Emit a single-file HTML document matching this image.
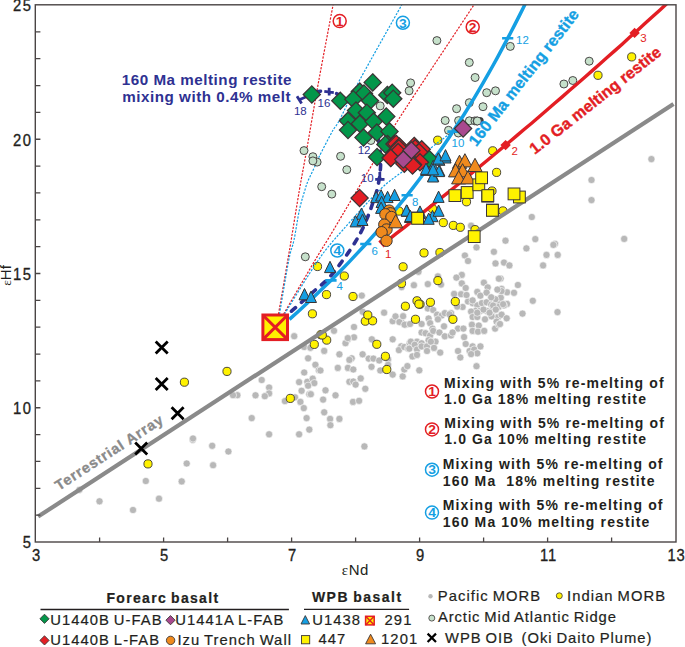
<!DOCTYPE html><html><head><meta charset="utf-8"><style>html,body{margin:0;padding:0;background:#fff;overflow:hidden;}svg{display:block;}text{font-family:"Liberation Sans", sans-serif;}</style></head><body>
<svg width="685" height="647" viewBox="0 0 685 647">
<defs><clipPath id="pc"><rect x="35.6" y="4.8" width="640.4" height="537.2"/></clipPath></defs>
<g fill="#b8b8b8">
<circle cx="99.5" cy="501.3" r="3.6" stroke="#fff" stroke-width="0.6"/>
<circle cx="133.0" cy="510.0" r="3.6" stroke="#fff" stroke-width="0.6"/>
<circle cx="145.8" cy="481.0" r="3.6" stroke="#fff" stroke-width="0.6"/>
<circle cx="159.0" cy="498.7" r="3.6" stroke="#fff" stroke-width="0.6"/>
<circle cx="79.4" cy="489.8" r="3.6" stroke="#fff" stroke-width="0.6"/>
<circle cx="181.7" cy="481.4" r="3.6" stroke="#fff" stroke-width="0.6"/>
<circle cx="186.7" cy="463.5" r="3.6" stroke="#fff" stroke-width="0.6"/>
<circle cx="192.7" cy="439.8" r="3.6" stroke="#fff" stroke-width="0.6"/>
<circle cx="212.2" cy="445.8" r="3.6" stroke="#fff" stroke-width="0.6"/>
<circle cx="213.1" cy="465.2" r="3.6" stroke="#fff" stroke-width="0.6"/>
<circle cx="228.4" cy="451.5" r="3.6" stroke="#fff" stroke-width="0.6"/>
<circle cx="237.4" cy="395.2" r="3.6" stroke="#fff" stroke-width="0.6"/>
<circle cx="233.0" cy="395.2" r="3.6" stroke="#fff" stroke-width="0.6"/>
<circle cx="193.0" cy="438.5" r="3.6" stroke="#fff" stroke-width="0.6"/>
<circle cx="294.2" cy="336.2" r="3.6" stroke="#fff" stroke-width="0.6"/>
<circle cx="304.2" cy="347.0" r="3.6" stroke="#fff" stroke-width="0.6"/>
<circle cx="310.4" cy="347.8" r="3.6" stroke="#fff" stroke-width="0.6"/>
<circle cx="308.1" cy="358.3" r="3.6" stroke="#fff" stroke-width="0.6"/>
<circle cx="315.4" cy="364.8" r="3.6" stroke="#fff" stroke-width="0.6"/>
<circle cx="318.9" cy="370.2" r="3.6" stroke="#fff" stroke-width="0.6"/>
<circle cx="304.2" cy="372.5" r="3.6" stroke="#fff" stroke-width="0.6"/>
<circle cx="261.7" cy="380.0" r="3.6" stroke="#fff" stroke-width="0.6"/>
<circle cx="299.1" cy="382.1" r="3.6" stroke="#fff" stroke-width="0.6"/>
<circle cx="307.3" cy="381.8" r="3.6" stroke="#fff" stroke-width="0.6"/>
<circle cx="312.7" cy="378.7" r="3.6" stroke="#fff" stroke-width="0.6"/>
<circle cx="314.3" cy="383.1" r="3.6" stroke="#fff" stroke-width="0.6"/>
<circle cx="308.1" cy="385.7" r="3.6" stroke="#fff" stroke-width="0.6"/>
<circle cx="269.1" cy="387.5" r="3.6" stroke="#fff" stroke-width="0.6"/>
<circle cx="269.1" cy="393.4" r="3.6" stroke="#fff" stroke-width="0.6"/>
<circle cx="264.8" cy="396.2" r="3.6" stroke="#fff" stroke-width="0.6"/>
<circle cx="255.5" cy="395.3" r="3.6" stroke="#fff" stroke-width="0.6"/>
<circle cx="301.6" cy="390.8" r="3.6" stroke="#fff" stroke-width="0.6"/>
<circle cx="309.3" cy="394.2" r="3.6" stroke="#fff" stroke-width="0.6"/>
<circle cx="295.0" cy="397.3" r="3.6" stroke="#fff" stroke-width="0.6"/>
<circle cx="284.9" cy="401.1" r="3.6" stroke="#fff" stroke-width="0.6"/>
<circle cx="300.4" cy="401.9" r="3.6" stroke="#fff" stroke-width="0.6"/>
<circle cx="303.8" cy="408.1" r="3.6" stroke="#fff" stroke-width="0.6"/>
<circle cx="251.7" cy="418.1" r="3.6" stroke="#fff" stroke-width="0.6"/>
<circle cx="306.6" cy="418.1" r="3.6" stroke="#fff" stroke-width="0.6"/>
<circle cx="334.0" cy="330.8" r="3.6" stroke="#fff" stroke-width="0.6"/>
<circle cx="354.0" cy="327.0" r="3.6" stroke="#fff" stroke-width="0.6"/>
<circle cx="392.7" cy="321.2" r="3.6" stroke="#fff" stroke-width="0.6"/>
<circle cx="401.2" cy="322.3" r="3.6" stroke="#fff" stroke-width="0.6"/>
<circle cx="405.8" cy="324.6" r="3.6" stroke="#fff" stroke-width="0.6"/>
<circle cx="354.0" cy="337.3" r="3.6" stroke="#fff" stroke-width="0.6"/>
<circle cx="347.9" cy="339.3" r="3.6" stroke="#fff" stroke-width="0.6"/>
<circle cx="345.5" cy="343.2" r="3.6" stroke="#fff" stroke-width="0.6"/>
<circle cx="371.8" cy="339.3" r="3.6" stroke="#fff" stroke-width="0.6"/>
<circle cx="392.7" cy="339.3" r="3.6" stroke="#fff" stroke-width="0.6"/>
<circle cx="401.2" cy="346.3" r="3.6" stroke="#fff" stroke-width="0.6"/>
<circle cx="398.9" cy="350.1" r="3.6" stroke="#fff" stroke-width="0.6"/>
<circle cx="404.3" cy="347.0" r="3.6" stroke="#fff" stroke-width="0.6"/>
<circle cx="408.1" cy="348.6" r="3.6" stroke="#fff" stroke-width="0.6"/>
<circle cx="409.7" cy="343.2" r="3.6" stroke="#fff" stroke-width="0.6"/>
<circle cx="324.2" cy="350.9" r="3.6" stroke="#fff" stroke-width="0.6"/>
<circle cx="339.4" cy="354.3" r="3.6" stroke="#fff" stroke-width="0.6"/>
<circle cx="362.6" cy="354.3" r="3.6" stroke="#fff" stroke-width="0.6"/>
<circle cx="351.7" cy="358.3" r="3.6" stroke="#fff" stroke-width="0.6"/>
<circle cx="349.4" cy="359.9" r="3.6" stroke="#fff" stroke-width="0.6"/>
<circle cx="368.7" cy="358.6" r="3.6" stroke="#fff" stroke-width="0.6"/>
<circle cx="373.4" cy="358.6" r="3.6" stroke="#fff" stroke-width="0.6"/>
<circle cx="379.2" cy="360.5" r="3.6" stroke="#fff" stroke-width="0.6"/>
<circle cx="388.1" cy="359.4" r="3.6" stroke="#fff" stroke-width="0.6"/>
<circle cx="388.1" cy="364.8" r="3.6" stroke="#fff" stroke-width="0.6"/>
<circle cx="320.4" cy="370.5" r="3.6" stroke="#fff" stroke-width="0.6"/>
<circle cx="337.8" cy="367.9" r="3.6" stroke="#fff" stroke-width="0.6"/>
<circle cx="347.9" cy="367.9" r="3.6" stroke="#fff" stroke-width="0.6"/>
<circle cx="353.3" cy="369.5" r="3.6" stroke="#fff" stroke-width="0.6"/>
<circle cx="371.5" cy="366.8" r="3.6" stroke="#fff" stroke-width="0.6"/>
<circle cx="380.3" cy="370.5" r="3.6" stroke="#fff" stroke-width="0.6"/>
<circle cx="392.7" cy="374.6" r="3.6" stroke="#fff" stroke-width="0.6"/>
<circle cx="402.7" cy="376.4" r="3.6" stroke="#fff" stroke-width="0.6"/>
<circle cx="404.3" cy="369.5" r="3.6" stroke="#fff" stroke-width="0.6"/>
<circle cx="407.4" cy="366.1" r="3.6" stroke="#fff" stroke-width="0.6"/>
<circle cx="349.4" cy="381.8" r="3.6" stroke="#fff" stroke-width="0.6"/>
<circle cx="353.3" cy="381.5" r="3.6" stroke="#fff" stroke-width="0.6"/>
<circle cx="355.6" cy="384.6" r="3.6" stroke="#fff" stroke-width="0.6"/>
<circle cx="360.7" cy="378.4" r="3.6" stroke="#fff" stroke-width="0.6"/>
<circle cx="365.3" cy="388.8" r="3.6" stroke="#fff" stroke-width="0.6"/>
<circle cx="325.5" cy="390.3" r="3.6" stroke="#fff" stroke-width="0.6"/>
<circle cx="335.5" cy="395.3" r="3.6" stroke="#fff" stroke-width="0.6"/>
<circle cx="310.8" cy="394.2" r="3.6" stroke="#fff" stroke-width="0.6"/>
<circle cx="323.1" cy="399.6" r="3.6" stroke="#fff" stroke-width="0.6"/>
<circle cx="353.0" cy="401.9" r="3.6" stroke="#fff" stroke-width="0.6"/>
<circle cx="359.1" cy="400.8" r="3.6" stroke="#fff" stroke-width="0.6"/>
<circle cx="324.2" cy="412.3" r="3.6" stroke="#fff" stroke-width="0.6"/>
<circle cx="330.1" cy="418.9" r="3.6" stroke="#fff" stroke-width="0.6"/>
<circle cx="339.4" cy="418.9" r="3.6" stroke="#fff" stroke-width="0.6"/>
<circle cx="361.8" cy="295.6" r="3.6" stroke="#fff" stroke-width="0.6"/>
<circle cx="362.7" cy="311.8" r="3.6" stroke="#fff" stroke-width="0.6"/>
<circle cx="384.1" cy="312.7" r="3.6" stroke="#fff" stroke-width="0.6"/>
<circle cx="395.5" cy="316.4" r="3.6" stroke="#fff" stroke-width="0.6"/>
<circle cx="399.4" cy="322.0" r="3.6" stroke="#fff" stroke-width="0.6"/>
<circle cx="468.0" cy="301.5" r="3.6" stroke="#fff" stroke-width="0.6"/>
<circle cx="472.6" cy="303.1" r="3.6" stroke="#fff" stroke-width="0.6"/>
<circle cx="477.3" cy="305.4" r="3.6" stroke="#fff" stroke-width="0.6"/>
<circle cx="481.9" cy="303.1" r="3.6" stroke="#fff" stroke-width="0.6"/>
<circle cx="486.6" cy="302.3" r="3.6" stroke="#fff" stroke-width="0.6"/>
<circle cx="491.2" cy="304.6" r="3.6" stroke="#fff" stroke-width="0.6"/>
<circle cx="495.8" cy="306.2" r="3.6" stroke="#fff" stroke-width="0.6"/>
<circle cx="498.9" cy="301.5" r="3.6" stroke="#fff" stroke-width="0.6"/>
<circle cx="462.6" cy="307.0" r="3.6" stroke="#fff" stroke-width="0.6"/>
<circle cx="427.8" cy="308.5" r="3.6" stroke="#fff" stroke-width="0.6"/>
<circle cx="433.2" cy="310.0" r="3.6" stroke="#fff" stroke-width="0.6"/>
<circle cx="475.7" cy="310.8" r="3.6" stroke="#fff" stroke-width="0.6"/>
<circle cx="480.4" cy="310.8" r="3.6" stroke="#fff" stroke-width="0.6"/>
<circle cx="486.6" cy="310.8" r="3.6" stroke="#fff" stroke-width="0.6"/>
<circle cx="492.7" cy="309.3" r="3.6" stroke="#fff" stroke-width="0.6"/>
<circle cx="471.1" cy="311.6" r="3.6" stroke="#fff" stroke-width="0.6"/>
<circle cx="403.1" cy="316.2" r="3.6" stroke="#fff" stroke-width="0.6"/>
<circle cx="437.1" cy="314.7" r="3.6" stroke="#fff" stroke-width="0.6"/>
<circle cx="441.7" cy="315.5" r="3.6" stroke="#fff" stroke-width="0.6"/>
<circle cx="444.8" cy="313.1" r="3.6" stroke="#fff" stroke-width="0.6"/>
<circle cx="451.0" cy="313.1" r="3.6" stroke="#fff" stroke-width="0.6"/>
<circle cx="437.9" cy="319.3" r="3.6" stroke="#fff" stroke-width="0.6"/>
<circle cx="428.6" cy="318.5" r="3.6" stroke="#fff" stroke-width="0.6"/>
<circle cx="472.6" cy="317.0" r="3.6" stroke="#fff" stroke-width="0.6"/>
<circle cx="477.3" cy="317.0" r="3.6" stroke="#fff" stroke-width="0.6"/>
<circle cx="485.0" cy="319.3" r="3.6" stroke="#fff" stroke-width="0.6"/>
<circle cx="492.7" cy="316.2" r="3.6" stroke="#fff" stroke-width="0.6"/>
<circle cx="498.1" cy="317.0" r="3.6" stroke="#fff" stroke-width="0.6"/>
<circle cx="496.6" cy="321.6" r="3.6" stroke="#fff" stroke-width="0.6"/>
<circle cx="404.6" cy="324.7" r="3.6" stroke="#fff" stroke-width="0.6"/>
<circle cx="410.0" cy="324.0" r="3.6" stroke="#fff" stroke-width="0.6"/>
<circle cx="421.6" cy="324.0" r="3.6" stroke="#fff" stroke-width="0.6"/>
<circle cx="430.1" cy="323.2" r="3.6" stroke="#fff" stroke-width="0.6"/>
<circle cx="432.5" cy="328.6" r="3.6" stroke="#fff" stroke-width="0.6"/>
<circle cx="444.0" cy="326.3" r="3.6" stroke="#fff" stroke-width="0.6"/>
<circle cx="458.0" cy="328.6" r="3.6" stroke="#fff" stroke-width="0.6"/>
<circle cx="463.4" cy="328.6" r="3.6" stroke="#fff" stroke-width="0.6"/>
<circle cx="471.9" cy="324.7" r="3.6" stroke="#fff" stroke-width="0.6"/>
<circle cx="478.8" cy="325.5" r="3.6" stroke="#fff" stroke-width="0.6"/>
<circle cx="472.6" cy="330.9" r="3.6" stroke="#fff" stroke-width="0.6"/>
<circle cx="478.0" cy="331.7" r="3.6" stroke="#fff" stroke-width="0.6"/>
<circle cx="484.2" cy="330.9" r="3.6" stroke="#fff" stroke-width="0.6"/>
<circle cx="495.1" cy="328.6" r="3.6" stroke="#fff" stroke-width="0.6"/>
<circle cx="498.9" cy="324.7" r="3.6" stroke="#fff" stroke-width="0.6"/>
<circle cx="421.6" cy="332.5" r="3.6" stroke="#fff" stroke-width="0.6"/>
<circle cx="425.5" cy="333.2" r="3.6" stroke="#fff" stroke-width="0.6"/>
<circle cx="430.1" cy="335.5" r="3.6" stroke="#fff" stroke-width="0.6"/>
<circle cx="433.2" cy="330.9" r="3.6" stroke="#fff" stroke-width="0.6"/>
<circle cx="439.4" cy="332.5" r="3.6" stroke="#fff" stroke-width="0.6"/>
<circle cx="444.8" cy="336.3" r="3.6" stroke="#fff" stroke-width="0.6"/>
<circle cx="451.0" cy="335.5" r="3.6" stroke="#fff" stroke-width="0.6"/>
<circle cx="452.6" cy="332.5" r="3.6" stroke="#fff" stroke-width="0.6"/>
<circle cx="464.1" cy="337.1" r="3.6" stroke="#fff" stroke-width="0.6"/>
<circle cx="428.6" cy="340.2" r="3.6" stroke="#fff" stroke-width="0.6"/>
<circle cx="435.5" cy="341.7" r="3.6" stroke="#fff" stroke-width="0.6"/>
<circle cx="417.0" cy="341.7" r="3.6" stroke="#fff" stroke-width="0.6"/>
<circle cx="410.8" cy="341.7" r="3.6" stroke="#fff" stroke-width="0.6"/>
<circle cx="409.3" cy="348.7" r="3.6" stroke="#fff" stroke-width="0.6"/>
<circle cx="414.7" cy="344.8" r="3.6" stroke="#fff" stroke-width="0.6"/>
<circle cx="421.6" cy="343.3" r="3.6" stroke="#fff" stroke-width="0.6"/>
<circle cx="417.0" cy="349.5" r="3.6" stroke="#fff" stroke-width="0.6"/>
<circle cx="421.6" cy="346.4" r="3.6" stroke="#fff" stroke-width="0.6"/>
<circle cx="427.0" cy="346.4" r="3.6" stroke="#fff" stroke-width="0.6"/>
<circle cx="430.9" cy="341.7" r="3.6" stroke="#fff" stroke-width="0.6"/>
<circle cx="434.0" cy="347.9" r="3.6" stroke="#fff" stroke-width="0.6"/>
<circle cx="427.0" cy="351.0" r="3.6" stroke="#fff" stroke-width="0.6"/>
<circle cx="465.7" cy="344.0" r="3.6" stroke="#fff" stroke-width="0.6"/>
<circle cx="472.6" cy="346.4" r="3.6" stroke="#fff" stroke-width="0.6"/>
<circle cx="480.4" cy="346.4" r="3.6" stroke="#fff" stroke-width="0.6"/>
<circle cx="458.0" cy="351.0" r="3.6" stroke="#fff" stroke-width="0.6"/>
<circle cx="469.6" cy="351.0" r="3.6" stroke="#fff" stroke-width="0.6"/>
<circle cx="474.2" cy="349.5" r="3.6" stroke="#fff" stroke-width="0.6"/>
<circle cx="477.3" cy="353.3" r="3.6" stroke="#fff" stroke-width="0.6"/>
<circle cx="412.4" cy="356.4" r="3.6" stroke="#fff" stroke-width="0.6"/>
<circle cx="417.0" cy="354.9" r="3.6" stroke="#fff" stroke-width="0.6"/>
<circle cx="440.2" cy="352.6" r="3.6" stroke="#fff" stroke-width="0.6"/>
<circle cx="460.3" cy="357.5" r="3.6" stroke="#fff" stroke-width="0.6"/>
<circle cx="471.1" cy="354.1" r="3.6" stroke="#fff" stroke-width="0.6"/>
<circle cx="419.3" cy="370.3" r="3.6" stroke="#fff" stroke-width="0.6"/>
<circle cx="476.5" cy="366.2" r="3.6" stroke="#fff" stroke-width="0.6"/>
<circle cx="507.0" cy="292.3" r="3.6" stroke="#fff" stroke-width="0.6"/>
<circle cx="514.0" cy="292.8" r="3.6" stroke="#fff" stroke-width="0.6"/>
<circle cx="500.8" cy="297.7" r="3.6" stroke="#fff" stroke-width="0.6"/>
<circle cx="495.4" cy="299.3" r="3.6" stroke="#fff" stroke-width="0.6"/>
<circle cx="507.0" cy="303.9" r="3.6" stroke="#fff" stroke-width="0.6"/>
<circle cx="498.5" cy="307.0" r="3.6" stroke="#fff" stroke-width="0.6"/>
<circle cx="503.9" cy="305.5" r="3.6" stroke="#fff" stroke-width="0.6"/>
<circle cx="493.1" cy="305.5" r="3.6" stroke="#fff" stroke-width="0.6"/>
<circle cx="491.5" cy="316.3" r="3.6" stroke="#fff" stroke-width="0.6"/>
<circle cx="501.6" cy="314.7" r="3.6" stroke="#fff" stroke-width="0.6"/>
<circle cx="506.7" cy="318.3" r="3.6" stroke="#fff" stroke-width="0.6"/>
<circle cx="500.0" cy="324.0" r="3.6" stroke="#fff" stroke-width="0.6"/>
<circle cx="522.5" cy="313.6" r="3.6" stroke="#fff" stroke-width="0.6"/>
<circle cx="532.8" cy="300.8" r="3.6" stroke="#fff" stroke-width="0.6"/>
<circle cx="557.5" cy="312.1" r="3.6" stroke="#fff" stroke-width="0.6"/>
<circle cx="531.8" cy="217.0" r="3.6" stroke="#fff" stroke-width="0.6"/>
<circle cx="505.5" cy="240.7" r="3.6" stroke="#fff" stroke-width="0.6"/>
<circle cx="535.3" cy="239.1" r="3.6" stroke="#fff" stroke-width="0.6"/>
<circle cx="555.0" cy="243.8" r="3.6" stroke="#fff" stroke-width="0.6"/>
<circle cx="553.4" cy="244.9" r="3.6" stroke="#fff" stroke-width="0.6"/>
<circle cx="526.4" cy="248.4" r="3.6" stroke="#fff" stroke-width="0.6"/>
<circle cx="493.9" cy="251.8" r="3.6" stroke="#fff" stroke-width="0.6"/>
<circle cx="546.5" cy="254.9" r="3.6" stroke="#fff" stroke-width="0.6"/>
<circle cx="557.7" cy="254.9" r="3.6" stroke="#fff" stroke-width="0.6"/>
<circle cx="495.5" cy="263.4" r="3.6" stroke="#fff" stroke-width="0.6"/>
<circle cx="504.0" cy="262.6" r="3.6" stroke="#fff" stroke-width="0.6"/>
<circle cx="509.4" cy="265.4" r="3.6" stroke="#fff" stroke-width="0.6"/>
<circle cx="543.1" cy="265.4" r="3.6" stroke="#fff" stroke-width="0.6"/>
<circle cx="500.6" cy="278.6" r="3.6" stroke="#fff" stroke-width="0.6"/>
<circle cx="517.9" cy="285.0" r="3.6" stroke="#fff" stroke-width="0.6"/>
<circle cx="483.9" cy="282.7" r="3.6" stroke="#fff" stroke-width="0.6"/>
<circle cx="487.7" cy="287.4" r="3.6" stroke="#fff" stroke-width="0.6"/>
<circle cx="501.6" cy="288.9" r="3.6" stroke="#fff" stroke-width="0.6"/>
<circle cx="471.1" cy="225.7" r="3.6" stroke="#fff" stroke-width="0.6"/>
<circle cx="476.5" cy="247.4" r="3.6" stroke="#fff" stroke-width="0.6"/>
<circle cx="651.4" cy="159.1" r="3.6" stroke="#fff" stroke-width="0.6"/>
<circle cx="591.5" cy="180.0" r="3.6" stroke="#fff" stroke-width="0.6"/>
<circle cx="591.5" cy="200.1" r="3.6" stroke="#fff" stroke-width="0.6"/>
<circle cx="624.2" cy="238.9" r="3.6" stroke="#fff" stroke-width="0.6"/>
<circle cx="501.5" cy="291.1" r="3.6" stroke="#fff" stroke-width="0.6"/>
<circle cx="503.1" cy="304.2" r="3.6" stroke="#fff" stroke-width="0.6"/>
<circle cx="464.9" cy="255.5" r="3.6" stroke="#fff" stroke-width="0.6"/>
<circle cx="468.0" cy="261.0" r="3.6" stroke="#fff" stroke-width="0.6"/>
<circle cx="418.5" cy="271.8" r="3.6" stroke="#fff" stroke-width="0.6"/>
<circle cx="461.8" cy="274.9" r="3.6" stroke="#fff" stroke-width="0.6"/>
<circle cx="456.4" cy="277.6" r="3.6" stroke="#fff" stroke-width="0.6"/>
<circle cx="437.9" cy="276.4" r="3.6" stroke="#fff" stroke-width="0.6"/>
<circle cx="498.9" cy="278.7" r="3.6" stroke="#fff" stroke-width="0.6"/>
<circle cx="413.9" cy="285.2" r="3.6" stroke="#fff" stroke-width="0.6"/>
<circle cx="427.8" cy="284.1" r="3.6" stroke="#fff" stroke-width="0.6"/>
<circle cx="441.0" cy="284.6" r="3.6" stroke="#fff" stroke-width="0.6"/>
<circle cx="461.8" cy="283.4" r="3.6" stroke="#fff" stroke-width="0.6"/>
<circle cx="465.7" cy="288.0" r="3.6" stroke="#fff" stroke-width="0.6"/>
<circle cx="454.1" cy="293.9" r="3.6" stroke="#fff" stroke-width="0.6"/>
<circle cx="461.1" cy="294.2" r="3.6" stroke="#fff" stroke-width="0.6"/>
<circle cx="466.5" cy="295.0" r="3.6" stroke="#fff" stroke-width="0.6"/>
<circle cx="472.6" cy="300.4" r="3.6" stroke="#fff" stroke-width="0.6"/>
<circle cx="477.3" cy="291.9" r="3.6" stroke="#fff" stroke-width="0.6"/>
<circle cx="480.4" cy="295.7" r="3.6" stroke="#fff" stroke-width="0.6"/>
<circle cx="486.6" cy="292.6" r="3.6" stroke="#fff" stroke-width="0.6"/>
<circle cx="491.2" cy="297.3" r="3.6" stroke="#fff" stroke-width="0.6"/>
<circle cx="497.4" cy="289.6" r="3.6" stroke="#fff" stroke-width="0.6"/>
<circle cx="457.2" cy="306.6" r="3.6" stroke="#fff" stroke-width="0.6"/>
<circle cx="449.5" cy="314.3" r="3.6" stroke="#fff" stroke-width="0.6"/>
<circle cx="477.3" cy="312.7" r="3.6" stroke="#fff" stroke-width="0.6"/>
<circle cx="483.5" cy="309.6" r="3.6" stroke="#fff" stroke-width="0.6"/>
<circle cx="489.6" cy="312.7" r="3.6" stroke="#fff" stroke-width="0.6"/>
<circle cx="495.8" cy="309.6" r="3.6" stroke="#fff" stroke-width="0.6"/>
<circle cx="401.6" cy="287.1" r="3.6" stroke="#fff" stroke-width="0.6"/>
<circle cx="347.8" cy="338.1" r="3.6" stroke="#fff" stroke-width="0.6"/>
<circle cx="309.3" cy="429.6" r="3.6" stroke="#fff" stroke-width="0.6"/>
<circle cx="299.1" cy="434.3" r="3.6" stroke="#fff" stroke-width="0.6"/>
<circle cx="269.1" cy="434.3" r="3.6" stroke="#fff" stroke-width="0.6"/>
<circle cx="330.4" cy="425.2" r="3.6" stroke="#fff" stroke-width="0.6"/>
<circle cx="364.4" cy="446.4" r="3.6" stroke="#fff" stroke-width="0.6"/>
</g>
<g fill="#fff200" stroke="#3a3535" stroke-width="0.9">
<circle cx="148.0" cy="463.9" r="4.1"/>
<circle cx="227.0" cy="371.4" r="4.1"/>
<circle cx="184.4" cy="382.2" r="4.1"/>
<circle cx="314.3" cy="344.4" r="4.1"/>
<circle cx="290.3" cy="398.4" r="4.1"/>
<circle cx="365.3" cy="321.2" r="4.1"/>
<circle cx="372.6" cy="320.8" r="4.1"/>
<circle cx="320.8" cy="334.7" r="4.1"/>
<circle cx="326.7" cy="340.1" r="4.1"/>
<circle cx="376.8" cy="344.3" r="4.1"/>
<circle cx="385.4" cy="356.3" r="4.1"/>
<circle cx="386.8" cy="369.5" r="4.1"/>
<circle cx="353.0" cy="296.5" r="4.1"/>
<circle cx="367.8" cy="315.0" r="4.1"/>
<circle cx="405.4" cy="306.2" r="4.1"/>
<circle cx="417.0" cy="300.8" r="4.1"/>
<circle cx="420.1" cy="304.3" r="4.1"/>
<circle cx="430.4" cy="302.3" r="4.1"/>
<circle cx="455.3" cy="301.5" r="4.1"/>
<circle cx="415.5" cy="319.3" r="4.1"/>
<circle cx="452.9" cy="319.3" r="4.1"/>
<circle cx="502.9" cy="210.9" r="4.1"/>
<circle cx="466.5" cy="201.8" r="4.1"/>
<circle cx="443.3" cy="222.6" r="4.1"/>
<circle cx="453.3" cy="225.4" r="4.1"/>
<circle cx="460.3" cy="227.3" r="4.1"/>
<circle cx="492.7" cy="150.8" r="4.1"/>
<circle cx="496.6" cy="172.4" r="4.1"/>
<circle cx="492.0" cy="191.0" r="4.1"/>
<circle cx="432.5" cy="208.7" r="4.1"/>
<circle cx="475.0" cy="229.6" r="4.1"/>
<circle cx="424.0" cy="252.9" r="4.1"/>
<circle cx="439.9" cy="252.5" r="4.1"/>
<circle cx="403.1" cy="266.8" r="4.1"/>
<circle cx="401.5" cy="283.4" r="4.1"/>
<circle cx="437.9" cy="280.6" r="4.1"/>
<circle cx="344.3" cy="276.0" r="4.1"/>
<circle cx="326.5" cy="294.6" r="4.1"/>
<circle cx="418.9" cy="304.1" r="4.1"/>
<circle cx="322.3" cy="335.0" r="4.1"/>
<circle cx="317.5" cy="266.5" r="4.1"/>
<circle cx="437.7" cy="140.2" r="4.1"/>
<circle cx="598.0" cy="75.3" r="4.1"/>
<circle cx="631.7" cy="56.9" r="4.1"/>
<circle cx="312.4" cy="313.8" r="4.1"/>
<circle cx="399.0" cy="211.1" r="4.1"/>
</g>
<g clip-path="url(#pc)">
<path d="M38.1 516.6L673.5 104" stroke="#8a8a8a" stroke-width="4.2" fill="none"/>
</g>
<text transform="translate(112,456.5) rotate(-33)" font-size="14.5" font-weight="bold" fill="#8a8a8a" stroke="#8a8a8a" stroke-width="0.3" text-anchor="middle" letter-spacing="0.9">Terrestrial Array</text>
<g clip-path="url(#pc)" fill="none">
<path d="M278.5 314.0 C280.1 305.0 285.7 272.3 287.8 260.0 C289.9 247.7 289.3 251.7 291.2 240.0 C293.1 228.3 296.8 205.3 299.4 190.0 C302.0 174.7 303.8 166.3 307.0 148.0 C310.2 129.7 314.6 103.5 318.9 80.0 C323.2 56.5 330.2 20.3 332.6 7.3 C335.0 -5.7 333.1 2.9 333.2 2.0" stroke="#e31e24" stroke-width="1.2" stroke-dasharray="2.2 1.4"/>
<path d="M279.5 314.0 C281.1 305.0 286.4 272.3 288.8 260.0 C291.2 247.7 292.2 248.5 294.0 240.0 C295.8 231.5 297.7 217.5 299.6 209.0 C301.5 200.5 303.9 193.5 305.3 188.8 C306.7 184.1 306.3 185.0 308.0 181.0 C309.7 177.0 313.7 169.0 315.5 165.0 C317.3 161.0 316.2 162.7 319.0 157.0 C321.8 151.3 329.1 137.2 332.5 131.0 C335.9 124.8 335.0 128.5 339.5 120.0 C344.0 111.5 349.4 99.0 359.7 80.0 C370.0 61.0 394.0 18.8 401.2 5.8 C408.4 -7.2 402.7 2.6 403.0 2.0" stroke="#159fe3" stroke-width="1.2" stroke-dasharray="2.2 1.4"/>
<path d="M283.7 314.0 C288.9 305.0 306.9 274.0 315.2 260.0 C323.5 246.0 323.7 246.5 333.5 230.0 C343.3 213.5 363.3 179.6 374.2 161.1 C385.1 142.6 382.3 144.9 398.8 119.0 C415.3 93.1 460.7 25.1 473.4 5.6 C486.1 -13.9 474.7 2.6 475.0 2.0" stroke="#e31e24" stroke-width="1.2" stroke-dasharray="2.2 1.4"/>
<path d="M284.5 314.0 C290.1 305.0 308.7 274.0 318.4 260.0 C328.1 246.0 332.5 241.7 342.8 230.0 C353.1 218.3 369.8 199.5 380.0 189.6 C390.2 179.7 395.4 177.3 403.9 170.4 C412.4 163.5 423.6 153.8 431.0 147.9 C438.4 142.0 444.5 137.7 448.0 135.2 C451.5 132.7 451.3 133.4 452.0 133.0" stroke="#159fe3" stroke-width="1.2" stroke-dasharray="2.2 1.4"/>
</g>
<circle cx="479.6" cy="121" r="4.1" fill="#3a3a3a"/>
<g fill="#c6e1cb" stroke="#3a3535" stroke-width="0.9">
<circle cx="304.0" cy="150.6" r="4.0"/>
<circle cx="312.9" cy="156.7" r="4.0"/>
<circle cx="317.1" cy="162.1" r="4.0"/>
<circle cx="312.9" cy="160.9" r="4.0"/>
<circle cx="340.6" cy="156.3" r="4.0"/>
<circle cx="346.8" cy="169.7" r="4.0"/>
<circle cx="321.7" cy="186.7" r="4.0"/>
<circle cx="331.8" cy="194.1" r="4.0"/>
<circle cx="305.3" cy="256.8" r="4.0"/>
<circle cx="436.9" cy="40.6" r="4.0"/>
<circle cx="469.3" cy="62.5" r="4.0"/>
<circle cx="475.1" cy="77.5" r="4.0"/>
<circle cx="410.6" cy="82.9" r="4.0"/>
<circle cx="409.1" cy="90.8" r="4.0"/>
<circle cx="469.3" cy="102.7" r="4.0"/>
<circle cx="456.6" cy="108.7" r="4.0"/>
<circle cx="445.2" cy="120.5" r="4.0"/>
<circle cx="458.6" cy="120.6" r="4.0"/>
<circle cx="469.4" cy="120.8" r="4.0"/>
<circle cx="474.9" cy="120.9" r="4.0"/>
<circle cx="477.0" cy="121.0" r="4.0"/>
<circle cx="380.2" cy="105.9" r="4.0"/>
<circle cx="370.9" cy="140.5" r="4.0"/>
<circle cx="510.3" cy="46.4" r="4.0"/>
<circle cx="486.7" cy="92.7" r="4.0"/>
<circle cx="495.5" cy="90.8" r="4.0"/>
<circle cx="483.0" cy="106.7" r="4.0"/>
<circle cx="448.5" cy="130.3" r="4.0"/>
<circle cx="458.3" cy="133.0" r="4.0"/>
<circle cx="563.9" cy="84.0" r="4.0"/>
<circle cx="572.8" cy="80.5" r="4.0"/>
<circle cx="589.2" cy="61.2" r="4.0"/>
<circle cx="477.4" cy="121.0" r="4.0"/>
</g>
<g clip-path="url(#pc)" fill="none">
<path d="M289.4 319.4 L298.5 311.2 L307.4 303.0 L316.1 294.8 L324.6 286.6 L333.0 278.5 L341.1 270.3 L349.0 262.1 L356.7 253.9 L364.3 245.7 L371.7 237.5 L378.9 229.3 L385.9 221.1 L392.8 212.9 L399.5 204.7 L406.1 196.6 L412.5 188.4 L418.7 180.2 L424.8 172.0 L430.8 163.8 L436.6 155.6 L442.3 147.4 L447.9 139.2 L453.3 131.0 L458.7 122.8 L463.9 114.7 L469.0 106.5 L474.0 98.3 L478.9 90.1 L483.7 81.9 L488.4 73.7 L493.0 65.5 L497.5 57.3 L501.9 49.1 L506.3 40.9 L510.6 32.8 L514.8 24.6 L519.0 16.4 L523.1 8.2 L527.1 0.0" stroke="#159fe3" stroke-width="3.5"/>
<path d="M381.8 245.0 L389.3 239.1 L396.8 233.2 L404.4 227.3 L411.9 221.4 L419.4 215.4 L426.9 209.4 L434.4 203.4 L441.9 197.4 L449.5 191.3 L457.0 185.2 L464.5 179.1 L472.0 172.9 L479.5 166.7 L487.1 160.5 L494.6 154.3 L502.1 148.0 L509.6 141.7 L517.1 135.4 L524.6 129.0 L532.2 122.7 L539.7 116.3 L547.2 109.8 L554.7 103.3 L562.2 96.9 L569.7 90.3 L577.3 83.8 L584.8 77.2 L592.3 70.6 L599.8 64.0 L607.3 57.3 L614.9 50.6 L622.4 43.9 L629.9 37.1 L637.4 30.4 L644.9 23.6 L652.4 16.7 L660.0 9.9 L667.5 3.0 L675.0 -3.9" stroke="#e31e24" stroke-width="3.4"/>
<path d="M291.5 311.2 C293.4 309.5 298.9 304.7 303.0 301.0 C307.1 297.3 312.3 292.7 316.4 289.1 C320.5 285.5 324.2 282.6 327.5 279.3 C330.8 276.1 333.5 272.6 335.9 269.6 C338.3 266.6 339.9 264.2 342.1 261.2 C344.3 258.2 346.9 254.8 349.1 251.5 C351.3 248.2 353.7 244.5 355.4 241.7 C357.1 238.9 358.1 237.4 359.5 234.8 C360.9 232.2 362.4 229.2 363.7 226.4 C365.0 223.6 366.1 220.7 367.2 218.1 C368.2 215.5 369.1 213.6 370.0 211.1 C370.9 208.6 371.9 205.5 372.8 202.8 C373.7 200.1 374.6 197.8 375.5 195.0 C376.4 192.2 377.2 189.6 377.9 186.3 C378.6 183.0 379.4 178.5 379.8 175.0 C380.2 171.5 380.5 169.1 380.6 165.3 C380.7 161.5 380.6 156.2 380.2 152.0 C379.8 147.8 379.1 142.8 378.5 140.0 C377.9 137.2 376.8 135.8 376.5 135.0" stroke="#2e3192" stroke-width="3.6" stroke-dasharray="5.4 7.8" stroke-linecap="round"/>
<path d="M325.4 280.4H336.6 M360.2 244.0H371.4 M401.5 195.2H412.7 M447.4 131.6H458.6 M502.1 38.3H513.3" stroke="#159fe3" stroke-width="2.6"/>
<path d="M505.6 139.9L510.8 145.1L505.6 150.3L500.4 145.1Z" fill="#e31e24"/>
<path d="M634.6 27.7L639.8 32.9L634.6 38.1L629.4 32.9Z" fill="#e31e24"/>
<path d="M379.2 240.6L384.6 246.6" stroke="#e31e24" stroke-width="2.4"/>
<path d="M375.2 179.4H384.5M379.8 179.4V172M324.3 91.4L333.8 92.6M329.2 87.8V95.6M297 96.2L301.6 103.4M299.3 99.8L308 96" stroke="#2e3192" stroke-width="2.8"/>
<path d="M316 91.8L320.6 91.2M336.5 93.6L340 95.2" stroke="#2e3192" stroke-width="3.4" stroke-linecap="round"/>
</g>
<g stroke="#3a3535" stroke-width="1.25" stroke-linejoin="miter">
<path d="M311.8 85.9L320.4 94.5L311.8 103.1L303.2 94.5Z" fill="#03964a"/>
<path d="M372.7 73.8L381.3 82.4L372.7 91.0L364.1 82.4Z" fill="#03964a"/>
<path d="M359.8 83.0L368.4 91.6L359.8 100.2L351.2 91.6Z" fill="#03964a"/>
<path d="M364.0 84.9L372.6 93.5L364.0 102.1L355.4 93.5Z" fill="#03964a"/>
<path d="M340.3 92.2L348.9 100.8L340.3 109.4L331.7 100.8Z" fill="#03964a"/>
<path d="M353.3 90.6L361.9 99.2L353.3 107.8L344.7 99.2Z" fill="#03964a"/>
<path d="M370.0 92.2L378.6 100.8L370.0 109.4L361.4 100.8Z" fill="#03964a"/>
<path d="M387.3 86.3L395.9 94.9L387.3 103.5L378.7 94.9Z" fill="#03964a"/>
<path d="M392.2 84.1L400.8 92.7L392.2 101.3L383.6 92.7Z" fill="#03964a"/>
<path d="M393.3 90.1L401.9 98.7L393.3 107.3L384.7 98.7Z" fill="#03964a"/>
<path d="M356.0 102.0L364.6 110.6L356.0 119.2L347.4 110.6Z" fill="#03964a"/>
<path d="M366.8 104.1L375.4 112.7L366.8 121.3L358.2 112.7Z" fill="#03964a"/>
<path d="M386.3 107.9L394.9 116.5L386.3 125.1L377.7 116.5Z" fill="#03964a"/>
<path d="M347.9 112.2L356.5 120.8L347.9 129.4L339.3 120.8Z" fill="#03964a"/>
<path d="M359.8 115.2L368.4 123.8L359.8 132.4L351.2 123.8Z" fill="#03964a"/>
<path d="M373.6 113.0L382.2 121.6L373.6 130.2L365.0 121.6Z" fill="#03964a"/>
<path d="M348.0 121.4L356.6 130.0L348.0 138.6L339.4 130.0Z" fill="#03964a"/>
<path d="M363.5 129.0L372.1 137.6L363.5 146.2L354.9 137.6Z" fill="#03964a"/>
<path d="M376.9 124.0L385.5 132.6L376.9 141.2L368.3 132.6Z" fill="#03964a"/>
<path d="M389.5 122.8L398.1 131.4L389.5 140.0L380.9 131.4Z" fill="#03964a"/>
<path d="M377.1 148.4L385.7 157.0L377.1 165.6L368.5 157.0Z" fill="#03964a"/>
<path d="M387.6 135.5L396.2 144.1L387.6 152.7L379.0 144.1Z" fill="#03964a"/>
<path d="M429.2 150.5L437.8 159.1L429.2 167.7L420.6 159.1Z" fill="#03964a"/>
<path d="M385.4 135.9L394.0 144.5L385.4 153.1L376.8 144.5Z" fill="#03964a"/>
<path d="M359.6 189.4L368.2 198.0L359.6 206.6L351.0 198.0Z" fill="#e31e24"/>
<path d="M394.4 135.5L403.0 144.1L394.4 152.7L385.8 144.1Z" fill="#e31e24"/>
<path d="M396.2 135.3L404.8 143.9L396.2 152.5L387.6 143.9Z" fill="#e31e24"/>
<path d="M399.4 137.9L408.0 146.5L399.4 155.1L390.8 146.5Z" fill="#e31e24"/>
<path d="M398.9 139.7L407.5 148.3L398.9 156.9L390.3 148.3Z" fill="#e31e24"/>
<path d="M414.2 137.3L422.8 145.9L414.2 154.5L405.6 145.9Z" fill="#e31e24"/>
<path d="M415.2 139.7L423.8 148.3L415.2 156.9L406.6 148.3Z" fill="#e31e24"/>
<path d="M421.7 140.7L430.3 149.3L421.7 157.9L413.1 149.3Z" fill="#e31e24"/>
<path d="M419.1 143.5L427.7 152.1L419.1 160.7L410.5 152.1Z" fill="#e31e24"/>
<path d="M398.1 143.5L406.7 152.1L398.1 160.7L389.5 152.1Z" fill="#e31e24"/>
<path d="M390.7 149.1L399.3 157.7L390.7 166.3L382.1 157.7Z" fill="#e31e24"/>
<path d="M390.8 149.4L399.4 158.0L390.8 166.6L382.2 158.0Z" fill="#e31e24"/>
<path d="M404.9 153.7L413.5 162.3L404.9 170.9L396.3 162.3Z" fill="#e31e24"/>
<path d="M404.3 155.2L412.9 163.8L404.3 172.4L395.7 163.8Z" fill="#e31e24"/>
<path d="M420.0 153.7L428.6 162.3L420.0 170.9L411.4 162.3Z" fill="#e31e24"/>
<path d="M413.0 155.9L421.6 164.5L413.0 173.1L404.4 164.5Z" fill="#e31e24"/>
<path d="M412.5 157.0L421.1 165.6L412.5 174.2L403.9 165.6Z" fill="#e31e24"/>
<path d="M411.4 141.8L420.0 150.4L411.4 159.0L402.8 150.4Z" fill="#a9498f"/>
<path d="M403.3 151.0L411.9 159.6L403.3 168.2L394.7 159.6Z" fill="#a9498f"/>
<path d="M463.1 119.9L471.7 128.5L463.1 137.1L454.5 128.5Z" fill="#a9498f"/>
</g>
<g stroke="#3a3535" stroke-width="1.0">
<path d="M439.4 154.0L444.9 165.3L433.9 165.3Z" fill="#159fe3"/>
<path d="M445.6 151.7L451.1 163.0L440.1 163.0Z" fill="#159fe3"/>
<path d="M433.2 160.2L438.7 171.5L427.7 171.5Z" fill="#159fe3"/>
<path d="M439.4 164.8L444.9 176.1L433.9 176.1Z" fill="#159fe3"/>
<path d="M426.3 164.1L431.8 175.4L420.8 175.4Z" fill="#159fe3"/>
<path d="M433.2 170.2L438.7 181.5L427.7 181.5Z" fill="#159fe3"/>
<path d="M438.6 191.1L444.1 202.4L433.1 202.4Z" fill="#159fe3"/>
<path d="M407.0 205.0L412.5 216.3L401.5 216.3Z" fill="#159fe3"/>
<path d="M420.1 207.3L425.6 218.6L414.6 218.6Z" fill="#159fe3"/>
<path d="M432.5 210.4L438.0 221.7L427.0 221.7Z" fill="#159fe3"/>
<path d="M438.6 205.0L444.1 216.3L433.1 216.3Z" fill="#159fe3"/>
<path d="M410.0 211.2L415.5 222.5L404.5 222.5Z" fill="#159fe3"/>
<path d="M376.2 191.3L381.7 202.6L370.7 202.6Z" fill="#159fe3"/>
<path d="M381.1 189.7L386.6 201.0L375.6 201.0Z" fill="#159fe3"/>
<path d="M387.6 191.3L393.1 202.6L382.1 202.6Z" fill="#159fe3"/>
<path d="M394.6 189.2L400.1 200.5L389.1 200.5Z" fill="#159fe3"/>
<path d="M381.6 196.2L387.1 207.5L376.1 207.5Z" fill="#159fe3"/>
<path d="M381.1 202.1L386.6 213.4L375.6 213.4Z" fill="#159fe3"/>
<path d="M406.5 204.8L412.0 216.1L401.0 216.1Z" fill="#159fe3"/>
<path d="M410.3 210.2L415.8 221.5L404.8 221.5Z" fill="#159fe3"/>
<path d="M420.0 205.9L425.5 217.2L414.5 217.2Z" fill="#159fe3"/>
<path d="M428.7 213.0L434.2 224.3L423.2 224.3Z" fill="#159fe3"/>
<path d="M438.4 152.8L443.9 164.1L432.9 164.1Z" fill="#159fe3"/>
<path d="M445.5 149.6L451.0 160.9L440.0 160.9Z" fill="#159fe3"/>
<path d="M426.0 163.1L431.5 174.4L420.5 174.4Z" fill="#159fe3"/>
<path d="M433.0 170.7L438.5 182.0L427.5 182.0Z" fill="#159fe3"/>
<path d="M439.0 165.3L444.5 176.6L433.5 176.6Z" fill="#159fe3"/>
<path d="M433.0 163.6L438.5 174.9L427.5 174.9Z" fill="#159fe3"/>
<path d="M330.0 261.3L335.5 272.6L324.5 272.6Z" fill="#159fe3"/>
<path d="M304.5 288.5L310.0 299.8L299.0 299.8Z" fill="#159fe3"/>
<path d="M311.0 291.2L316.5 302.5L305.5 302.5Z" fill="#159fe3"/>
<path d="M361.5 208.0L367.0 219.3L356.0 219.3Z" fill="#159fe3"/>
<path d="M355.6 215.6L361.1 226.9L350.1 226.9Z" fill="#159fe3"/>
<path d="M362.5 214.2L368.0 225.5L357.0 225.5Z" fill="#159fe3"/>
<circle cx="389.2" cy="210.6" r="5.7" fill="#f08a1d"/>
<circle cx="390.3" cy="213.3" r="5.7" fill="#f08a1d"/>
<circle cx="385.4" cy="214.3" r="5.7" fill="#f08a1d"/>
<circle cx="391.4" cy="217.0" r="5.7" fill="#f08a1d"/>
<circle cx="384.3" cy="224.6" r="5.7" fill="#f08a1d"/>
<circle cx="386.5" cy="229.5" r="5.7" fill="#f08a1d"/>
<circle cx="381.6" cy="232.2" r="5.7" fill="#f08a1d"/>
<circle cx="386.5" cy="240.8" r="5.7" fill="#f08a1d"/>
<path d="M459.5 155.2L466.6 168.4L452.4 168.4Z" fill="#f08a1d"/>
<path d="M464.9 153.7L472.0 166.9L457.8 166.9Z" fill="#f08a1d"/>
<path d="M475.0 158.3L482.1 171.5L467.9 171.5Z" fill="#f08a1d"/>
<path d="M455.6 163.7L462.7 176.9L448.5 176.9Z" fill="#f08a1d"/>
<path d="M462.6 163.7L469.7 176.9L455.5 176.9Z" fill="#f08a1d"/>
<path d="M458.7 170.7L465.8 183.9L451.6 183.9Z" fill="#f08a1d"/>
<path d="M468.0 170.7L475.1 183.9L460.9 183.9Z" fill="#f08a1d"/>
<path d="M395.7 214.6L402.8 227.8L388.6 227.8Z" fill="#f08a1d"/>
<rect x="481.8" y="190.3" width="11.8" height="11.8" fill="#fff200"/>
<rect x="513.5" y="191.1" width="11.8" height="11.8" fill="#fff200"/>
<rect x="508.1" y="188.0" width="11.8" height="11.8" fill="#fff200"/>
<rect x="486.5" y="204.2" width="11.8" height="11.8" fill="#fff200"/>
<rect x="449.0" y="189.7" width="11.8" height="11.8" fill="#fff200"/>
<rect x="461.3" y="186.6" width="11.8" height="11.8" fill="#fff200"/>
<rect x="472.9" y="178.9" width="11.8" height="11.8" fill="#fff200"/>
<rect x="475.7" y="171.9" width="11.8" height="11.8" fill="#fff200"/>
<rect x="481.9" y="189.7" width="11.8" height="11.8" fill="#fff200"/>
<rect x="486.5" y="204.4" width="11.8" height="11.8" fill="#fff200"/>
<rect x="411.9" y="212.1" width="11.8" height="11.8" fill="#fff200"/>
<rect x="468.3" y="230.7" width="11.8" height="11.8" fill="#fff200"/>
<rect x="411.7" y="212.4" width="11.8" height="11.8" fill="#fff200"/>
</g>
<g stroke="#000" stroke-width="2.8" fill="none">
<path d="M155.7 341.6L167.7 353.6M167.7 341.6L155.7 353.6"/>
<path d="M155.7 378.0L167.7 390.0M167.7 378.0L155.7 390.0"/>
<path d="M171.6 407.3L183.6 419.3M183.6 407.3L171.6 419.3"/>
<path d="M135.2 442.6L147.2 454.6M147.2 442.6L135.2 454.6"/>
</g>
<rect x="262.9" y="315" width="24.6" height="24.6" fill="#fff200" stroke="#e31e24" stroke-width="3"/>
<path d="M263 315.2L287.4 339.4M287.4 315.2L263 339.4" stroke="#e31e24" stroke-width="3"/>
<circle cx="339.7" cy="21.1" r="6.5" fill="none" stroke="#e31e24" stroke-width="1.5"/><text transform="translate(339.7,25.8) scale(1.05,1.0)" font-size="13.2" font-weight="bold" text-anchor="middle" fill="#e31e24">1</text>
<circle cx="402.9" cy="22.8" r="6.5" fill="none" stroke="#159fe3" stroke-width="1.5"/><text transform="translate(402.9,27.5) scale(1.05,1.0)" font-size="13.2" font-weight="bold" text-anchor="middle" fill="#159fe3">3</text>
<circle cx="472.7" cy="27" r="6.5" fill="none" stroke="#e31e24" stroke-width="1.5"/><text transform="translate(472.7,31.7) scale(1.05,1.0)" font-size="13.2" font-weight="bold" text-anchor="middle" fill="#e31e24">2</text>
<circle cx="337.3" cy="250.5" r="6.5" fill="none" stroke="#159fe3" stroke-width="1.5"/><text transform="translate(337.3,255.2) scale(1.05,1.0)" font-size="13.2" font-weight="bold" text-anchor="middle" fill="#159fe3">4</text>
<text x="121.8" y="85.3" font-size="15.2" font-weight="bold" fill="#2e3192" letter-spacing="0.52">160 Ma melting restite</text>
<text x="122.3" y="101.8" font-size="15.2" font-weight="bold" fill="#2e3192" letter-spacing="0.52">mixing with 0.4% melt</text>
<text x="300.3" y="114.8" font-size="11.5" text-anchor="middle" fill="#2e3192">18</text>
<text x="323.9" y="106.7" font-size="11.5" text-anchor="middle" fill="#2e3192">16</text>
<text x="364.1" y="154.3" font-size="11.5" text-anchor="middle" fill="#2e3192">12</text>
<text x="367.2" y="181.7" font-size="11.5" text-anchor="middle" fill="#2e3192">10</text>
<text x="339.8" y="289.7" font-size="11.5" text-anchor="middle" fill="#159fe3">4</text>
<text x="374.6" y="254.7" font-size="11.5" text-anchor="middle" fill="#159fe3">6</text>
<text x="415.1" y="205.8" font-size="11.5" text-anchor="middle" fill="#159fe3">8</text>
<text x="458" y="147.4" font-size="11.5" text-anchor="middle" fill="#159fe3">10</text>
<text x="522.5" y="44.1" font-size="11.5" text-anchor="middle" fill="#159fe3">12</text>
<text x="388.1" y="257.9" font-size="11.5" text-anchor="middle" fill="#e31e24">1</text>
<text x="514.7" y="155.0" font-size="11.5" text-anchor="middle" fill="#e31e24">2</text>
<text x="643.4" y="42.3" font-size="11.5" text-anchor="middle" fill="#e31e24">3</text>
<text transform="translate(524.6,78.2) rotate(-52)" font-size="16.0" font-weight="bold" fill="#159fe3" stroke="#159fe3" stroke-width="0.35" text-anchor="middle" letter-spacing="0.05" dy="4.3">160 Ma melting restite</text>
<text transform="translate(596,101.2) rotate(-38.3)" font-size="16.0" font-weight="bold" fill="#e31e24" stroke="#e31e24" stroke-width="0.35" text-anchor="middle" letter-spacing="0.05" dy="4.3">1.0 Ga melting restite</text>
<circle cx="432.0" cy="391.5" r="6.5" fill="none" stroke="#e31e24" stroke-width="1.5"/><text transform="translate(432.0,396.2) scale(1.05,1.0)" font-size="13.2" font-weight="bold" text-anchor="middle" fill="#e31e24">1</text>
<text transform="translate(444.0,388.4) scale(1,1.08)" font-size="14" font-weight="bold" fill="#231f20" letter-spacing="1.14" xml:space="preserve">Mixing with 5% re-melting of</text>
<text transform="translate(444.0,404.3) scale(1,1.08)" font-size="14" font-weight="bold" fill="#231f20" letter-spacing="1.14" xml:space="preserve">1.0 Ga 18% melting restite</text>
<circle cx="432.0" cy="429.4" r="6.5" fill="none" stroke="#e31e24" stroke-width="1.5"/><text transform="translate(432.0,434.1) scale(1.05,1.0)" font-size="13.2" font-weight="bold" text-anchor="middle" fill="#e31e24">2</text>
<text transform="translate(444.2,428.0) scale(1,1.08)" font-size="14" font-weight="bold" fill="#231f20" letter-spacing="1.14" xml:space="preserve">Mixing with 5% re-melting of</text>
<text transform="translate(444.2,444.3) scale(1,1.08)" font-size="14" font-weight="bold" fill="#231f20" letter-spacing="1.14" xml:space="preserve">1.0 Ga 10% melting restite</text>
<circle cx="432.0" cy="469.7" r="6.5" fill="none" stroke="#159fe3" stroke-width="1.5"/><text transform="translate(432.0,474.4) scale(1.05,1.0)" font-size="13.2" font-weight="bold" text-anchor="middle" fill="#159fe3">3</text>
<text transform="translate(442.8,469.3) scale(1,1.08)" font-size="14" font-weight="bold" fill="#231f20" letter-spacing="1.14" xml:space="preserve">Mixing with 5% re-melting of</text>
<text transform="translate(442.8,485.6) scale(1,1.08)" font-size="14" font-weight="bold" fill="#231f20" letter-spacing="1.14" xml:space="preserve">160 Ma  18% melting restite</text>
<circle cx="432.0" cy="512.6" r="6.5" fill="none" stroke="#159fe3" stroke-width="1.5"/><text transform="translate(432.0,517.3) scale(1.05,1.0)" font-size="13.2" font-weight="bold" text-anchor="middle" fill="#159fe3">4</text>
<text transform="translate(442.8,510.1) scale(1,1.08)" font-size="14" font-weight="bold" fill="#231f20" letter-spacing="1.14" xml:space="preserve">Mixing with 5% re-melting of</text>
<text transform="translate(442.8,526.9) scale(1,1.08)" font-size="14" font-weight="bold" fill="#231f20" letter-spacing="1.14" xml:space="preserve">160 Ma 10% melting restite</text>
<text transform="translate(106.4,602.9) scale(1,1.04)" font-size="14" font-weight="bold" fill="#231f20" stroke="#231f20" stroke-width="0.2" letter-spacing="1.33" word-spacing="-1.2" text-anchor="start" xml:space="preserve">Forearc basalt</text>
<text transform="translate(311.9,602.4) scale(1,1.04)" font-size="14" font-weight="bold" fill="#231f20" stroke="#231f20" stroke-width="0.2" letter-spacing="1.5" word-spacing="-1.2" text-anchor="start" xml:space="preserve">WPB basalt</text>
<path d="M40.5 609.5H288.9M304 609.3H409.1" stroke="#231f20" stroke-width="1.3"/>
<g stroke="#3a3535" stroke-width="0.9">
<path d="M44.5 614.2L49.1 618.8L44.5 623.4L39.9 618.8Z" fill="#03964a"/>
<path d="M44.5 635.8L49.1 640.4L44.5 645.0L39.9 640.4Z" fill="#e31e24"/>
<path d="M170.5 615.6L175.1 620.2L170.5 624.8L165.9 620.2Z" fill="#a9498f"/>
<circle cx="170.6" cy="640.4" r="4.2" fill="#f08a1d"/>
<path d="M305.3 615.6L309.6 624.0L301.0 624.0Z" fill="#159fe3"/>
<rect x="301.5" y="635.6" width="8.2" height="8.2" fill="#fff200"/>
<path d="M370.6 634.2L375.6 643.8L365.6 643.8Z" fill="#f08a1d"/>
</g>
<rect x="365.6" y="616.3" width="8.6" height="8.6" fill="#fff200" stroke="#e31e24" stroke-width="1.5"/>
<path d="M365.6 616.3L374.2 624.9M374.2 616.3L365.6 624.9" stroke="#e31e24" stroke-width="1.4"/>
<text transform="translate(50.2,624.6) scale(1,1.04)" font-size="14.8" fill="#231f20" stroke="#231f20" stroke-width="0.2" letter-spacing="1.05" word-spacing="-1.2" text-anchor="start" xml:space="preserve">U1440B U-FAB</text>
<text transform="translate(175.2,624.6) scale(1,1.04)" font-size="14.8" fill="#231f20" stroke="#231f20" stroke-width="0.2" letter-spacing="1.05" word-spacing="-1.2" text-anchor="start" xml:space="preserve">U1441A L-FAB</text>
<text transform="translate(50.2,644.8) scale(1,1.04)" font-size="14.8" fill="#231f20" stroke="#231f20" stroke-width="0.2" letter-spacing="1.05" word-spacing="-1.2" text-anchor="start" xml:space="preserve">U1440B L-FAB</text>
<text transform="translate(177.4,644.8) scale(1,1.04)" font-size="14.8" fill="#231f20" stroke="#231f20" stroke-width="0.2" letter-spacing="1.05" word-spacing="-1.2" text-anchor="start" xml:space="preserve">Izu Trench Wall</text>
<text transform="translate(312.2,624.8) scale(1,1.04)" font-size="14.8" fill="#231f20" stroke="#231f20" stroke-width="0.2" letter-spacing="1.05" word-spacing="-1.2" text-anchor="start" xml:space="preserve">U1438</text>
<text transform="translate(384.6,624.8) scale(1,1.04)" font-size="14.8" fill="#231f20" stroke="#231f20" stroke-width="0.2" letter-spacing="1.05" word-spacing="-1.2" text-anchor="start" xml:space="preserve">291</text>
<text transform="translate(318.5,644.4) scale(1,1.04)" font-size="14.8" fill="#231f20" stroke="#231f20" stroke-width="0.2" letter-spacing="1.05" word-spacing="-1.2" text-anchor="start" xml:space="preserve">447</text>
<text transform="translate(381.1,644.4) scale(1,1.04)" font-size="14.8" fill="#231f20" stroke="#231f20" stroke-width="0.2" letter-spacing="1.05" word-spacing="-1.2" text-anchor="start" xml:space="preserve">1201</text>
<circle cx="430.5" cy="596.3" r="2.2" fill="#b8b8b8"/>
<circle cx="559.3" cy="595.8" r="3" fill="#fff200" stroke="#3a3535" stroke-width="0.8"/>
<circle cx="431.8" cy="618.1" r="3" fill="#c6e1cb" stroke="#3a3535" stroke-width="0.8"/>
<path d="M427.6 633.6L436 642M436 633.6L427.6 642" stroke="#000" stroke-width="2.2"/>
<text transform="translate(437.8,601) scale(1,1.04)" font-size="14.8" fill="#231f20" stroke="#231f20" stroke-width="0.2" letter-spacing="1.05" word-spacing="-1.2" text-anchor="start" xml:space="preserve">Pacific MORB</text>
<text transform="translate(567,601) scale(1,1.04)" font-size="14.8" fill="#231f20" stroke="#231f20" stroke-width="0.2" letter-spacing="1.05" word-spacing="-1.2" text-anchor="start" xml:space="preserve">Indian MORB</text>
<text transform="translate(437.9,622.2) scale(1,1.04)" font-size="14.8" fill="#231f20" stroke="#231f20" stroke-width="0.2" letter-spacing="0.93" word-spacing="-1.2" text-anchor="start" xml:space="preserve">Arctic Mid Atlantic Ridge</text>
<text transform="translate(445,643) scale(1,1.04)" font-size="14.8" fill="#231f20" stroke="#231f20" stroke-width="0.2" letter-spacing="0.97" word-spacing="-1.2" text-anchor="start" xml:space="preserve">WPB OIB  (Oki Daito Plume)</text>
<rect x="35.3" y="4.8" width="640.7" height="537.2" fill="none" stroke="#4a4545" stroke-width="1.4"/>
<path d="M35.3 515.15H40.4 M35.3 488.30H40.4 M35.3 461.45H40.4 M35.3 434.60H40.4 M35.3 407.75H40.4 M35.3 380.90H40.4 M35.3 354.05H40.4 M35.3 327.20H40.4 M35.3 300.35H40.4 M35.3 273.50H40.4 M35.3 246.65H40.4 M35.3 219.80H40.4 M35.3 192.95H40.4 M35.3 166.10H40.4 M35.3 139.25H40.4 M35.3 112.40H40.4 M35.3 85.55H40.4 M35.3 58.70H40.4 M35.3 31.85H40.4 M99.60 542V537.6 M163.60 542V537.6 M227.60 542V537.6 M291.60 542V537.6 M355.60 542V537.6 M419.60 542V537.6 M483.60 542V537.6 M547.60 542V537.6 M611.60 542V537.6" stroke="#4a4545" stroke-width="1.3" fill="none"/>
<text transform="translate(32.4,11.40) scale(1,1.12)" font-size="14.8" letter-spacing="1.5" text-anchor="end" fill="#231f20" stroke="#231f20" stroke-width="0.3">25</text>
<text transform="translate(32.4,145.65) scale(1,1.12)" font-size="14.8" letter-spacing="1.5" text-anchor="end" fill="#231f20" stroke="#231f20" stroke-width="0.3">20</text>
<text transform="translate(32.4,279.90) scale(1,1.12)" font-size="14.8" letter-spacing="1.5" text-anchor="end" fill="#231f20" stroke="#231f20" stroke-width="0.3">15</text>
<text transform="translate(32.4,414.15) scale(1,1.12)" font-size="14.8" letter-spacing="1.5" text-anchor="end" fill="#231f20" stroke="#231f20" stroke-width="0.3">10</text>
<text transform="translate(32.4,548.40) scale(1,1.12)" font-size="14.8" letter-spacing="1.5" text-anchor="end" fill="#231f20" stroke="#231f20" stroke-width="0.3">5</text>
<text transform="translate(36.50,560.9) scale(1,1.12)" font-size="14.8" letter-spacing="0.9" text-anchor="middle" fill="#231f20" stroke="#231f20" stroke-width="0.3">3</text>
<text transform="translate(164.50,560.9) scale(1,1.12)" font-size="14.8" letter-spacing="0.9" text-anchor="middle" fill="#231f20" stroke="#231f20" stroke-width="0.3">5</text>
<text transform="translate(292.50,560.9) scale(1,1.12)" font-size="14.8" letter-spacing="0.9" text-anchor="middle" fill="#231f20" stroke="#231f20" stroke-width="0.3">7</text>
<text transform="translate(420.50,560.9) scale(1,1.12)" font-size="14.8" letter-spacing="0.9" text-anchor="middle" fill="#231f20" stroke="#231f20" stroke-width="0.3">9</text>
<text transform="translate(548.50,560.9) scale(1,1.12)" font-size="14.8" letter-spacing="0.9" text-anchor="middle" fill="#231f20" stroke="#231f20" stroke-width="0.3">11</text>
<text transform="translate(676.50,560.9) scale(1,1.12)" font-size="14.8" letter-spacing="0.9" text-anchor="middle" fill="#231f20" stroke="#231f20" stroke-width="0.3">13</text>
<text x="355.4" y="574.6" font-size="15" letter-spacing="0.6" text-anchor="middle" fill="#231f20"><tspan font-family="Liberation Serif" font-size="15">ε</tspan>Nd</text>
<text transform="translate(11.4,275.5) rotate(-90)" font-size="15" text-anchor="middle" fill="#231f20"><tspan font-family="Liberation Serif" font-size="13.5">ε</tspan>Hf</text>
</svg></body></html>
